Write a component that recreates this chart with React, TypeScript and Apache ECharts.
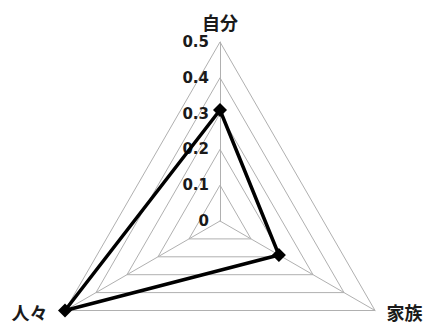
import React, { useEffect, useRef } from "react";
import * as echarts from "echarts";

// Radar runs counter-clockwise from the top: 自分, 人々, 家族
const indicatorNames = ["自分", "人々", "家族"];
const indicatorMax = 0.5;
const values = [0.31, 0.5, 0.19];

// Name text tweaks for the two lower corners (kept level with their vertices)
const nameStyles: Record<string, any> = {
  人々: { verticalAlign: "bottom", lineHeight: 8, padding: [0, 8, 0, 0] },
  家族: { verticalAlign: "bottom", lineHeight: 8, padding: [0, 0, 0, 2] },
};

export default function App() {
  const ref = useRef<HTMLDivElement>(null);

  useEffect(() => {
    if (!ref.current) return;
    const chart = echarts.init(ref.current, null, { renderer: "svg" });
    chart.setOption({
      animation: false,
      backgroundColor: "#ffffff",
      radar: {
        center: [220, 221],
        radius: 179,
        startAngle: 90,
        shape: "polygon",
        splitNumber: 5,
        nameGap: 11,
        axisName: {
          color: "#1a1a1a",
          fontSize: 18,
          fontWeight: "bold",
          fontFamily: "Noto Sans CJK JP",
        },
        axisLine: { lineStyle: { color: "#b0b0b0", width: 1 } },
        splitLine: { lineStyle: { color: "#b0b0b0", width: 1 } },
        splitArea: { show: false },
        axisTick: { show: false },
        axisLabel: {
          show: false,
          color: "#1a1a1a",
          fontSize: 15,
          fontWeight: "bold",
          fontFamily: "DejaVu Sans",
          margin: 11,
        },
        indicator: indicatorNames.map((name, i) => ({
          name,
          min: 0,
          max: indicatorMax,
          nameTextStyle: nameStyles[name] || {},
          axisLabel: i === 0 ? { show: true, showMinLabel: true, showMaxLabel: true } : { show: false },
        })),
      },
      series: [
        {
          type: "radar",
          symbol: "diamond",
          symbolSize: 14,
          itemStyle: { color: "#000000" },
          lineStyle: { color: "#000000", width: 3.5 },
          data: [{ value: values }],
        },
      ],
    });
    return () => chart.dispose();
  }, []);

  return (
    <div
      ref={ref}
      style={{ position: "fixed", left: 0, top: 0, width: 433, height: 326 }}
    />
  );
}
